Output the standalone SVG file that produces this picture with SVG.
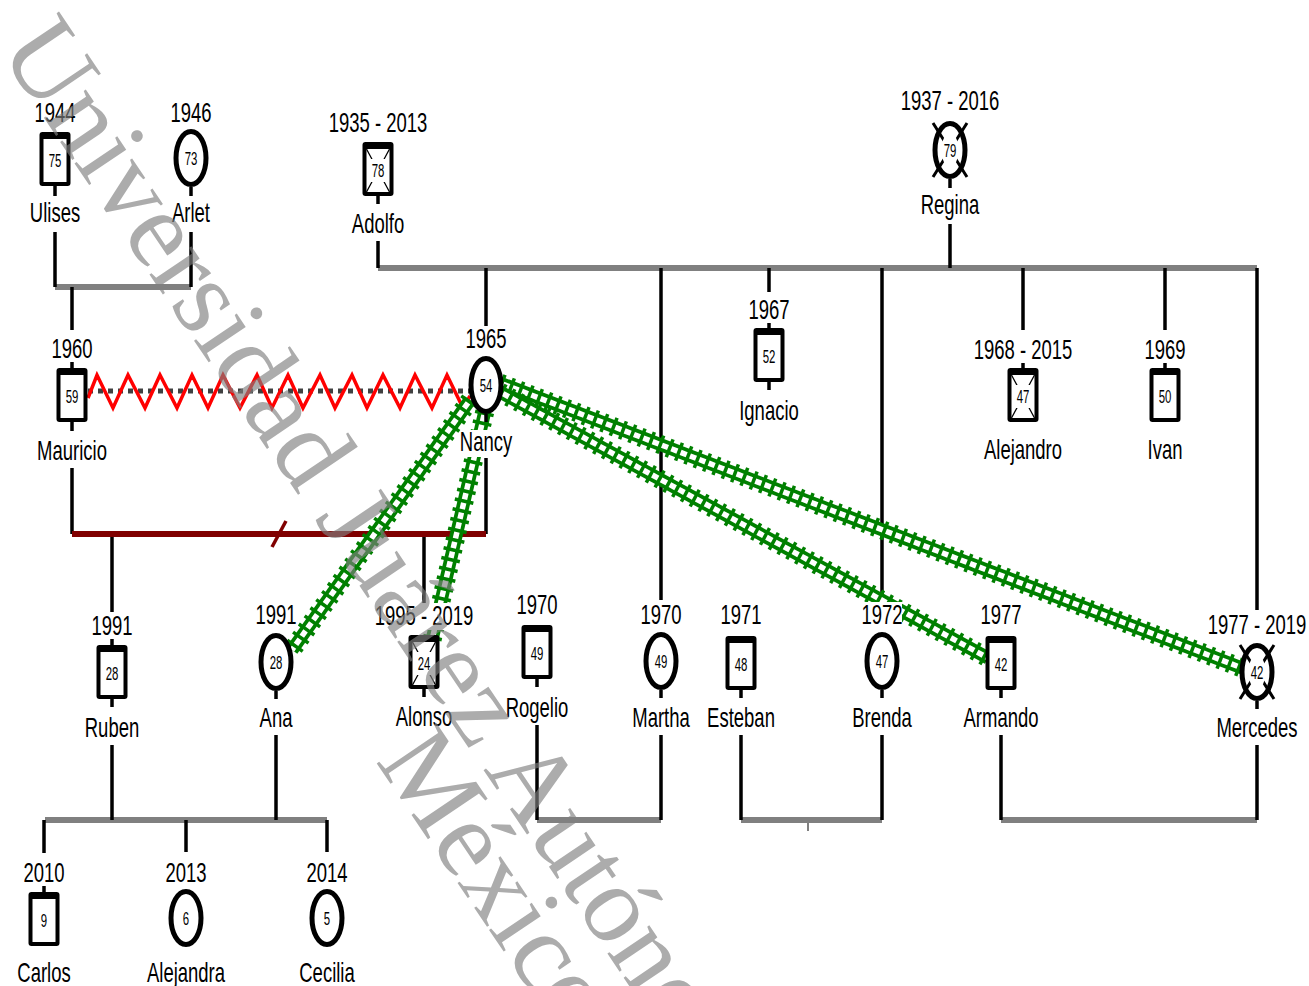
<svg xmlns="http://www.w3.org/2000/svg" xmlns:xlink="http://www.w3.org/1999/xlink" width="1309" height="986" viewBox="0 0 1309 986">
<style>
.t{font-family:"Liberation Sans",Arial,sans-serif;font-size:28px;text-anchor:middle;fill:#000}
.n{font-family:"Liberation Sans",Arial,sans-serif;font-size:19px;text-anchor:middle;fill:#000}
.ln{stroke:#000;stroke-width:3.5;fill:none}
.gl{stroke:#808080;stroke-width:6;fill:none}
.r1{stroke:#008000;stroke-width:19;stroke-dasharray:3.5 6.5;fill:none}
.r2{stroke:#008000;stroke-width:13;fill:none}
.r3{stroke:#fff;stroke-width:5.5;stroke-dasharray:6.5 3.5;stroke-dashoffset:6.5;fill:none}
.bg{fill:#fff}
.wm{font-family:"Liberation Serif","Times New Roman",serif;font-size:110px;fill:#808080;opacity:.65}
</style>
<defs>
<g id="m"><rect x="-15.5" y="0" width="31" height="54" rx="3" fill="#000"/><rect x="-11.5" y="7" width="23" height="43" fill="#fff"/></g>
<g id="md"><use href="#m"/><path d="M-11.5 7 L11.5 50 M11.5 7 L-11.5 50" stroke="#000" stroke-width="1.3"/><rect x="-9" y="17" width="18" height="23" fill="#fff"/></g>
<ellipse id="f" rx="15" ry="26.5" fill="#fff" stroke="#000" stroke-width="5"/>
<g id="fd"><use href="#f"/><path d="M-17 -27 L17 27 M17 -27 L-17 27" stroke="#000" stroke-width="3"/><ellipse rx="9" ry="16" fill="#fff"/></g>
<path id="gAna" d="M470 400 L292 650"/>
<path id="gAlo" d="M487 402 L432 640"/>
<path id="gMer" d="M500 383 L1242 668"/>
<path id="gArm" d="M500 392 L988 658"/>
</defs>
<rect width="1309" height="986" fill="#fff"/>

<g id="connectors">
<g class="gl">
<line x1="55" y1="287" x2="191" y2="287"/>
<line x1="378" y1="268" x2="1257" y2="268"/>
<line x1="45" y1="820" x2="327" y2="820"/>
<line x1="537" y1="820" x2="661" y2="820"/>
<line x1="741" y1="820" x2="882" y2="820"/>
<line x1="1001" y1="820" x2="1257" y2="820"/>
</g>
<line x1="808" y1="822" x2="808" y2="831" stroke="#808080" stroke-width="2"/>
<g class="ln">
<line x1="55" y1="232" x2="55" y2="287"/>
<line x1="191" y1="232" x2="191" y2="287"/>
<line x1="72" y1="287" x2="72" y2="330"/>
<line x1="378" y1="241" x2="378" y2="268"/>
<line x1="950" y1="224" x2="950" y2="268"/>
<line x1="486" y1="268" x2="486" y2="326"/>
<line x1="661" y1="268" x2="661" y2="600"/>
<line x1="769" y1="268" x2="769" y2="292"/>
<line x1="882" y1="268" x2="882" y2="598"/>
<line x1="1023" y1="268" x2="1023" y2="330"/>
<line x1="1165" y1="268" x2="1165" y2="330"/>
<line x1="1257" y1="268" x2="1257" y2="610"/>
<line x1="72" y1="468" x2="72" y2="534"/>
<line x1="486" y1="458" x2="486" y2="534"/>
<line x1="112" y1="534" x2="112" y2="612"/>
<line x1="424" y1="534" x2="424" y2="603"/>
<line x1="112" y1="745" x2="112" y2="820"/>
<line x1="276" y1="735" x2="276" y2="820"/>
<line x1="537" y1="725" x2="537" y2="820"/>
<line x1="661" y1="735" x2="661" y2="820"/>
<line x1="741" y1="735" x2="741" y2="820"/>
<line x1="882" y1="735" x2="882" y2="820"/>
<line x1="1001" y1="735" x2="1001" y2="820"/>
<line x1="1257" y1="745" x2="1257" y2="820"/>
<line x1="44" y1="820" x2="44" y2="853"/>
<line x1="186" y1="820" x2="186" y2="852"/>
<line x1="327" y1="820" x2="327" y2="852"/>
</g>
<line x1="72" y1="534" x2="486" y2="534" stroke="#800000" stroke-width="6"/>
<line x1="272" y1="547" x2="286" y2="521" stroke="#800000" stroke-width="3.5"/>
<line x1="88" y1="391" x2="470" y2="391" stroke="#404040" stroke-width="5" stroke-dasharray="5 5"/>
<polyline fill="none" stroke="#ff0000" stroke-width="3.5" points="88,398 97,375 113,408 128,375 145,408 160,375 177,408 192,375 208,408 223,375 240,408 257,375 272,408 288,375 303,408 320,375 335,408 352,375 367,408 383,375 400,408 415,375 432,408 447,375 463,408 470,396"/>
<g id="rails">
<use href="#gAna" class="r1"/><use href="#gAna" class="r2"/><use href="#gAna" class="r3"/>
<use href="#gAlo" class="r1"/><use href="#gAlo" class="r2"/><use href="#gAlo" class="r3"/>
<use href="#gMer" class="r1"/><use href="#gMer" class="r2"/><use href="#gMer" class="r3"/>
<use href="#gArm" class="r1"/><use href="#gArm" class="r2"/><use href="#gArm" class="r3"/>
</g>
</g>

<g id="ulises"><text class="t" transform="translate(55 122) scale(.66 1)">1944</text><use href="#m" x="55" y="132"/><line class="ln" x1="55" y1="186" x2="55" y2="196"/><text class="n" transform="translate(55 167) scale(.6 1)">75</text><text class="t" transform="translate(55 222) scale(.66 1)">Ulises</text></g>
<g id="arlet"><text class="t" transform="translate(191 122) scale(.66 1)">1946</text><use href="#f" x="191" y="158"/><line class="ln" x1="191" y1="187" x2="191" y2="196"/><text class="n" transform="translate(191 165) scale(.6 1)">73</text><text class="t" transform="translate(191 222) scale(.66 1)">Arlet</text></g>
<g id="adolfo"><text class="t" transform="translate(378 132) scale(.66 1)">1935 - 2013</text><use href="#md" x="378" y="142"/><line class="ln" x1="378" y1="196" x2="378" y2="204"/><text class="n" transform="translate(378 177) scale(.6 1)">78</text><text class="t" transform="translate(378 233) scale(.66 1)">Adolfo</text></g>
<g id="regina"><text class="t" transform="translate(950 110) scale(.66 1)">1937 - 2016</text><use href="#fd" x="950" y="150"/><line class="ln" x1="950" y1="179" x2="950" y2="188"/><text class="n" transform="translate(950 157) scale(.6 1)">79</text><text class="t" transform="translate(950 214) scale(.66 1)">Regina</text></g>
<g id="mauricio"><text class="t" transform="translate(72 358) scale(.66 1)">1960</text><line class="ln" x1="72" y1="362" x2="72" y2="368"/><use href="#m" x="72" y="368"/><line class="ln" x1="72" y1="422" x2="72" y2="431"/><text class="n" transform="translate(72 403) scale(.6 1)">59</text><text class="t" transform="translate(72 460) scale(.66 1)">Mauricio</text></g>
<g id="nancy"><text class="t" transform="translate(486 348) scale(.66 1)">1965</text><use href="#f" x="486" y="385"/><line class="ln" x1="486" y1="414" x2="486" y2="422"/><text class="n" transform="translate(486 392) scale(.6 1)">54</text><rect class="bg" x="462" y="430" width="48" height="27"/><text class="t" transform="translate(486 451) scale(.66 1)">Nancy</text></g>
<g id="ignacio"><text class="t" transform="translate(769 319) scale(.66 1)">1967</text><line class="ln" x1="769" y1="323" x2="769" y2="328"/><use href="#m" x="769" y="328"/><line class="ln" x1="769" y1="382" x2="769" y2="390"/><text class="n" transform="translate(769 363) scale(.6 1)">52</text><text class="t" transform="translate(769 420) scale(.66 1)">Ignacio</text></g>
<g id="alejandro"><text class="t" transform="translate(1023 359) scale(.66 1)">1968 - 2015</text><line class="ln" x1="1023" y1="363" x2="1023" y2="368"/><use href="#md" x="1023" y="368"/><text class="n" transform="translate(1023 403) scale(.6 1)">47</text><text class="t" transform="translate(1023 459) scale(.66 1)">Alejandro</text></g>
<g id="ivan"><text class="t" transform="translate(1165 359) scale(.66 1)">1969</text><line class="ln" x1="1165" y1="363" x2="1165" y2="368"/><use href="#m" x="1165" y="368"/><text class="n" transform="translate(1165 403) scale(.6 1)">50</text><text class="t" transform="translate(1165 459) scale(.66 1)">Ivan</text></g>
<g id="ruben"><text class="t" transform="translate(112 635) scale(.66 1)">1991</text><line class="ln" x1="112" y1="639" x2="112" y2="645"/><use href="#m" x="112" y="645"/><line class="ln" x1="112" y1="699" x2="112" y2="707"/><text class="n" transform="translate(112 680) scale(.6 1)">28</text><text class="t" transform="translate(112 737) scale(.66 1)">Ruben</text></g>
<g id="ana"><text class="t" transform="translate(276 624) scale(.66 1)">1991</text><use href="#f" x="276" y="662"/><line class="ln" x1="276" y1="691" x2="276" y2="699"/><text class="n" transform="translate(276 669) scale(.6 1)">28</text><text class="t" transform="translate(276 727) scale(.66 1)">Ana</text></g>
<g id="alonso"><rect class="bg" x="376" y="603" width="96" height="27"/><text class="t" transform="translate(424 625) scale(.66 1)">1995 - 2019</text><use href="#md" x="424" y="635"/><line class="ln" x1="424" y1="689" x2="424" y2="697"/><text class="n" transform="translate(424 670) scale(.6 1)">24</text><text class="t" transform="translate(424 726) scale(.66 1)">Alonso</text></g>
<g id="rogelio"><text class="t" transform="translate(537 614) scale(.66 1)">1970</text><use href="#m" x="537" y="625"/><line class="ln" x1="537" y1="679" x2="537" y2="687"/><text class="n" transform="translate(537 660) scale(.6 1)">49</text><text class="t" transform="translate(537 717) scale(.66 1)">Rogelio</text></g>
<g id="martha"><text class="t" transform="translate(661 624) scale(.66 1)">1970</text><use href="#f" x="661" y="661"/><line class="ln" x1="661" y1="690" x2="661" y2="698"/><text class="n" transform="translate(661 668) scale(.6 1)">49</text><text class="t" transform="translate(661 727) scale(.66 1)">Martha</text></g>
<g id="esteban"><text class="t" transform="translate(741 624) scale(.66 1)">1971</text><use href="#m" x="741" y="636"/><line class="ln" x1="741" y1="690" x2="741" y2="698"/><text class="n" transform="translate(741 671) scale(.6 1)">48</text><text class="t" transform="translate(741 727) scale(.66 1)">Esteban</text></g>
<g id="brenda"><rect class="bg" x="862" y="602" width="40" height="27"/><text class="t" transform="translate(882 624) scale(.66 1)">1972</text><use href="#f" x="882" y="661"/><line class="ln" x1="882" y1="690" x2="882" y2="698"/><text class="n" transform="translate(882 668) scale(.6 1)">47</text><text class="t" transform="translate(882 727) scale(.66 1)">Brenda</text></g>
<g id="armando"><text class="t" transform="translate(1001 624) scale(.66 1)">1977</text><use href="#m" x="1001" y="636"/><line class="ln" x1="1001" y1="690" x2="1001" y2="698"/><text class="n" transform="translate(1001 671) scale(.6 1)">42</text><text class="t" transform="translate(1001 727) scale(.66 1)">Armando</text></g>
<g id="mercedes"><text class="t" transform="translate(1257 634) scale(.66 1)">1977 - 2019</text><use href="#fd" x="1257" y="672"/><line class="ln" x1="1257" y1="701" x2="1257" y2="709"/><text class="n" transform="translate(1257 679) scale(.6 1)">42</text><text class="t" transform="translate(1257 737) scale(.66 1)">Mercedes</text></g>
<g id="carlos"><text class="t" transform="translate(44 882) scale(.66 1)">2010</text><line class="ln" x1="44" y1="886" x2="44" y2="892"/><use href="#m" x="44" y="892"/><text class="n" transform="translate(44 927) scale(.6 1)">9</text><text class="t" transform="translate(44 982) scale(.66 1)">Carlos</text></g>
<g id="alejandra"><text class="t" transform="translate(186 882) scale(.66 1)">2013</text><use href="#f" x="186" y="918"/><text class="n" transform="translate(186 925) scale(.6 1)">6</text><text class="t" transform="translate(186 982) scale(.66 1)">Alejandra</text></g>
<g id="cecilia"><text class="t" transform="translate(327 882) scale(.66 1)">2014</text><use href="#f" x="327" y="918"/><text class="n" transform="translate(327 925) scale(.6 1)">5</text><text class="t" transform="translate(327 982) scale(.66 1)">Cecilia</text></g>

<g id="watermark" transform="translate(-2 50) rotate(56)">
<text class="wm" x="0" y="0">Universidad Juárez Autónoma</text>
<text class="wm" x="800" y="85">México</text>
</g>
</svg>
